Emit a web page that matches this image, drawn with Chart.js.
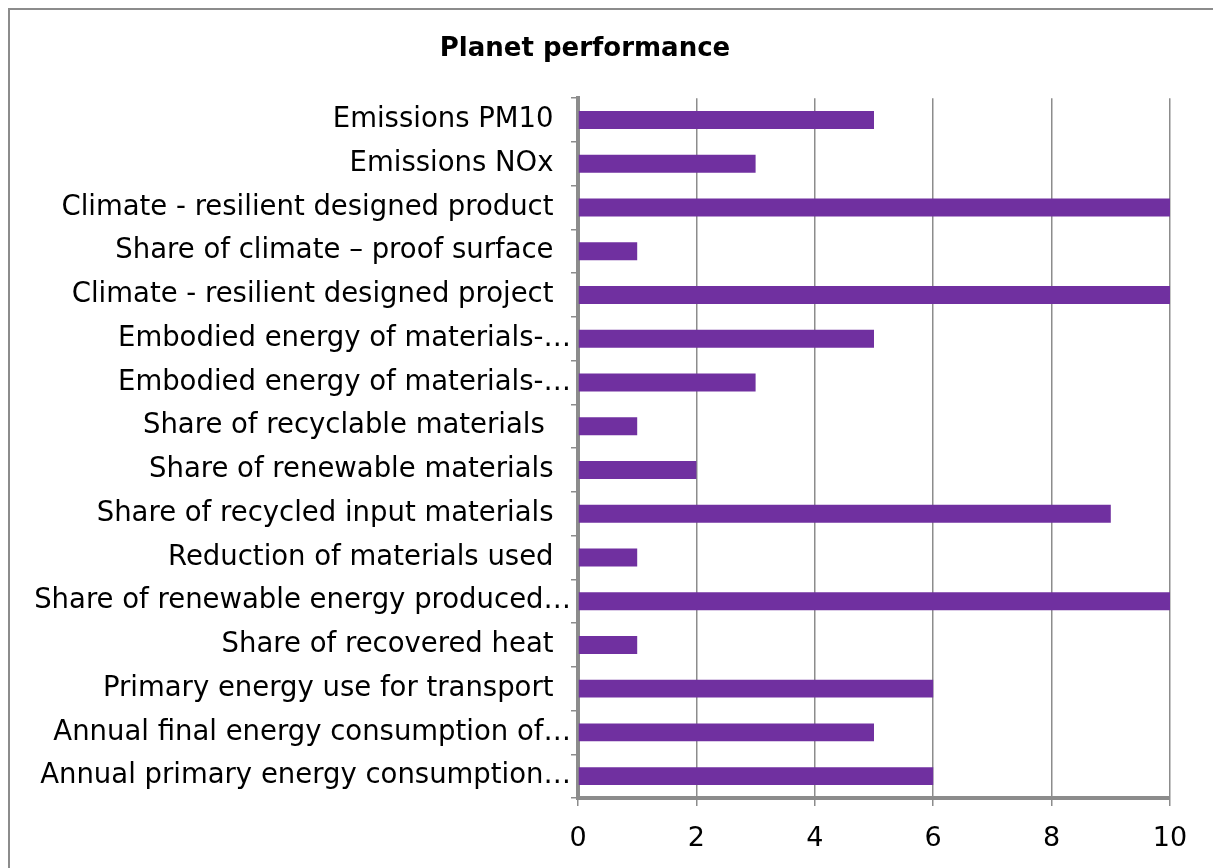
<!DOCTYPE html>
<html>
<head>
<meta charset="utf-8">
<script src="https://cdn.jsdelivr.net/npm/chart.js@4"></script>
<style>
  html, body { margin: 0; padding: 0; background: #fff; }
  #wrap { width: 1213px; height: 868px; }
</style>
</head>
<body>
<div id="wrap"><canvas id="barChart"></canvas></div>
<script>
// categories top to bottom, as in the picture
const categories = [
  "Emissions PM10  ",
  "Emissions NOx  ",
  "Climate - resilient designed product  ",
  "Share of climate – proof surface  ",
  "Climate - resilient designed project  ",
  "Embodied energy of materials-…",
  "Embodied energy of materials-…",
  "Share of recyclable materials   ",
  "Share of renewable materials  ",
  "Share of recycled input materials  ",
  "Reduction of materials used  ",
  "Share of renewable energy produced…",
  "Share of recovered heat  ",
  "Primary energy use for transport  ",
  "Annual final energy consumption of…",
  "Annual primary energy consumption…",
];
const scores = [5, 3, 10, 1, 10, 5, 3, 1, 2, 9, 1, 10, 1, 6, 5, 6];
const xTicks = [0, 2, 4, 6, 8, 10];

const labelFont = "DejaVu Sans";

// grey frame around the whole chart (cut off on the right and bottom)
const frame = {
  id: "frame",
  beforeDraw(chart) {
    const c = chart.ctx;
    c.save();
    c.strokeStyle = "#8c8c8c";
    c.lineWidth = 2;
    c.strokeRect(9, 9, 1400, 1000);
    c.restore();
  },
};

document.addEventListener("DOMContentLoaded", () => {
  const ctx = document.getElementById("barChart").getContext("2d");
  new Chart(ctx, {
    type: "bar",
    data: {
      labels: categories,
      datasets: [
        {
          label: "Planet performance",
          data: scores,
          backgroundColor: "#7030A0",
          barPercentage: 0.41,
          categoryPercentage: 1,
        },
      ],
    },
    options: {
      indexAxis: "y",
      responsive: true,
      maintainAspectRatio: false,
      animation: false,
      layout: { padding: { left: 0, right: 43, top: 0, bottom: 0 } },
      plugins: {
        legend: { display: false },
        tooltip: { enabled: false },
        title: {
          display: true,
          text: "Planet performance",
          color: "#000",
          font: { family: labelFont, size: 26, weight: "bold" },
          padding: { top: 34, bottom: 33 },
        },
      },
      scales: {
        x: {
          min: 0,
          max: 10,
          afterBuildTicks: (scale) => {
            scale.ticks = xTicks.map((v) => ({ value: v }));
          },
          afterFit: (scale) => {
            scale.height = 70;
          },
          grid: { color: "#8c8c8c", lineWidth: 1.5, tickLength: 8 },
          border: { color: "#8c8c8c", width: 4 },
          ticks: {
            color: "#000",
            font: { family: labelFont, size: 27 },
            padding: 17,
          },
        },
        y: {
          afterFit: (scale) => {
            scale.width = 578;
          },
          grid: {
            drawOnChartArea: false,
            color: "#8c8c8c",
            lineWidth: 1.5,
            tickLength: 7,
          },
          border: { color: "#8c8c8c", width: 4 },
          ticks: {
            color: "#000",
            font: { family: labelFont, size: 27.5 },
            padding: 0,
            autoSkip: false,
          },
        },
      },
    },
    plugins: [frame],
  });
});
</script>
</body>
</html>
